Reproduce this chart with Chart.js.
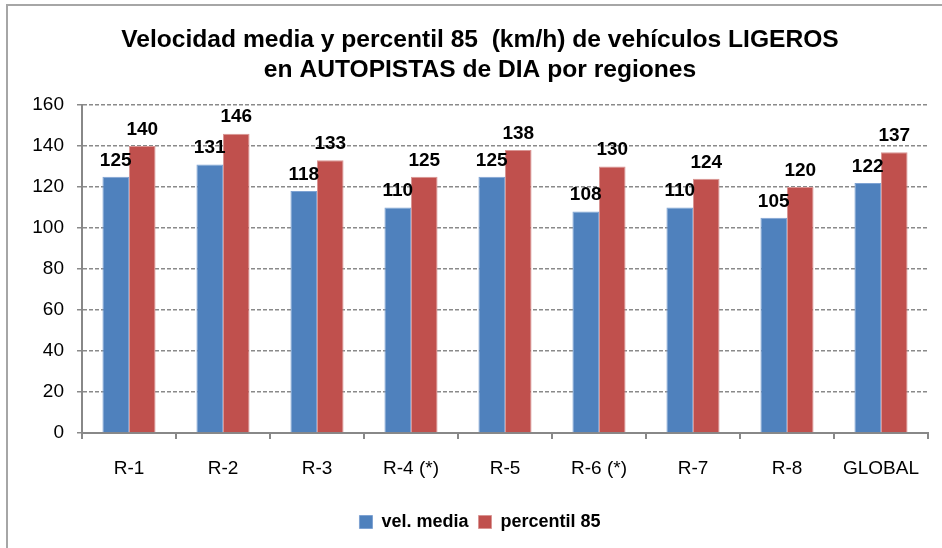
<!DOCTYPE html>
<html>
<head>
<meta charset="utf-8">
<script src="https://cdn.jsdelivr.net/npm/chart.js@4/dist/chart.umd.min.js"></script>
<style>
  html, body { margin: 0; padding: 0; background: #fff; }
  #wrap { position: relative; width: 942px; height: 548px; overflow: hidden; }
  #frame { position: absolute; left: 6px; top: 4px; width: 960px; height: 600px;
           border-top: 2px solid #a6a6a6; border-left: 2px solid #a6a6a6; }
  canvas { position: absolute; left: 0; top: 0; }
</style>
</head>
<body>
<div id="wrap">
  <div id="frame"></div>
  <canvas id="c" width="942" height="548"></canvas>
</div>
<script>
const categories = ["R-1", "R-2", "R-3", "R-4 (*)", "R-5", "R-6 (*)", "R-7", "R-8", "GLOBAL"];
const velMedia = [125, 131, 118, 110, 125, 108, 110, 105, 122];
const percentil85 = [140, 146, 133, 125, 138, 130, 124, 120, 137];
const yTicks = [0, 20, 40, 60, 80, 100, 120, 140, 160];
const titleLines = ["Velocidad media y percentil 85  (km/h) de vehículos LIGEROS", "en AUTOPISTAS de DIA por regiones"];
const seriesNames = ["vel. media", "percentil 85"];

const FONT = "'Liberation Sans', Arial, sans-serif";

const valueLabels = {
  id: 'valueLabels',
  afterDatasetsDraw(chart) {
    const ctx = chart.ctx;
    ctx.save();
    ctx.font = "bold 19px " + FONT;
    ctx.fillStyle = "#000";
    ctx.textAlign = "center";
    ctx.textBaseline = "bottom";
    chart.data.datasets.forEach((ds, i) => {
      const meta = chart.getDatasetMeta(i);
      meta.data.forEach((bar, j) => {
        ctx.fillText(String(ds.data[j]), bar.x, bar.y - 7);
      });
    });
    ctx.restore();
  }
};

new Chart(document.getElementById('c'), {
  type: 'bar',
  data: {
    labels: categories,
    datasets: [
      { label: seriesNames[0], data: velMedia, backgroundColor: '#4F81BD', borderColor: '#7fa3d3', borderWidth: 1,
        categoryPercentage: 0.565, barPercentage: 1.0 },
      { label: seriesNames[1], data: percentil85, backgroundColor: '#C0504D', borderColor: '#d99593', borderWidth: 1,
        categoryPercentage: 0.565, barPercentage: 1.0 }
    ]
  },
  options: {
    responsive: false,
    animation: false,
    devicePixelRatio: 1,
    layout: { padding: { left: 32, right: 14, top: 0, bottom: 7 } },
    plugins: {
      title: {
        display: true,
        text: titleLines,
        color: '#000',
        font: { family: FONT, size: 24.6, weight: 'bold', lineHeight: 1.22 },
        padding: { top: 25, bottom: 20 }
      },
      legend: {
        position: 'bottom',
        labels: {
          color: '#000',
          font: { family: FONT, size: 18, weight: 'bold' },
          boxWidth: 13, boxHeight: 13, padding: 10
        }
      },
      tooltip: { enabled: false }
    },
    scales: {
      x: {
        afterFit(scale) { scale.height = 70; },
        grid: { display: true, drawOnChartArea: false, drawTicks: true, tickLength: 6, color: '#888', lineWidth: 2, offset: true },
        border: { display: true, color: '#888', width: 2 },
        ticks: { color: '#000', font: { family: FONT, size: 19 }, padding: 18, maxRotation: 0 }
      },
      y: {
        min: 0, max: 160,
        afterBuildTicks(scale) { scale.ticks = yTicks.map(v => ({ value: v })); },
        afterFit(scale) { scale.width = 50; },
        grid: { color: '#8a8a8a', lineWidth: 1.5, tickLength: 5, drawTicks: true },
        border: { display: true, color: '#888', width: 2, dash: [4, 2] },
        ticks: { color: '#000', font: { family: FONT, size: 19 }, padding: 13 }
      }
    }
  },
  plugins: [valueLabels]
});
</script>
</body>
</html>
